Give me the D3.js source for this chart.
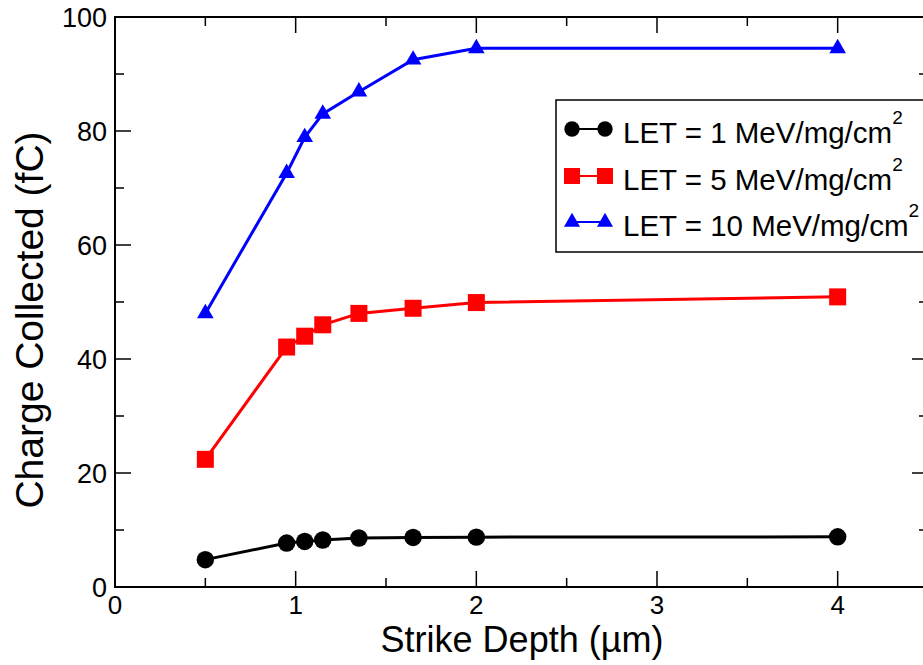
<!DOCTYPE html>
<html>
<head>
<meta charset="utf-8">
<script src="https://cdn.jsdelivr.net/npm/d3@7"></script>
<style>
    html, body { margin: 0; padding: 0; background: #fff; }
    svg { display: block; font-family: "Liberation Sans", Arial, Helvetica, sans-serif; }
</style>
</head>
<body>
<svg id="chart" width="923" height="665"></svg>
<script>
// Data
const depths = [0.5, 0.95, 1.05, 1.15, 1.35, 1.65, 2.0, 4.0];
const let1 = [4.8, 7.7, 8.0, 8.25, 8.6, 8.7, 8.75, 8.8];
const let5 = [22.4, 42.1, 44.0, 46.0, 48.0, 48.9, 49.9, 50.9];
const let10 = [48.0, 72.6, 78.9, 83.0, 86.9, 92.5, 94.5, 94.5];

const seriesNames = ['LET = 1 MeV/mg/cm', 'LET = 5 MeV/mg/cm', 'LET = 10 MeV/mg/cm'];
const xTicks = [0, 1, 2, 3, 4];
const yTicks = [0, 20, 40, 60, 80, 100];

// Global configs
const config = {
    width: 923,
    height: 665,
    left: 115,
    right: 928,
    top: 17,
    bottom: 587
};

const series = [
    { name: seriesNames[0], values: let1, color: '#000000', symbol: d3.symbolCircle, size: 240, legendSize: 185 },
    { name: seriesNames[1], values: let5, color: '#ff0000', symbol: d3.symbolSquare, size: 289, legendSize: 256 },
    { name: seriesNames[2], values: let10, color: '#0000ff', symbol: d3.symbolTriangle, size: 120, legendSize: 112 }
];

const x = d3.scaleLinear().domain([0, 4.5]).range([config.left, config.right]);
const y = d3.scaleLinear().domain([0, 100]).range([config.bottom, config.top]);

const svg = d3.select('#chart');

// Frame with inward ticks on all sides
function drawFrame() {
    const MAJOR = 16, MINOR = 9;

    const xMinor = d3.range(0.5, 4.5, 1);
    const yMinor = d3.range(10, 100, 20);

    const g = svg.append('g').attr('stroke', '#000').attr('stroke-width', 1.5);

    // ticks bottom / top
    xTicks.concat(xMinor).forEach(v => {
        const len = xTicks.includes(v) ? MAJOR : MINOR;
        g.append('line').attr('x1', x(v)).attr('x2', x(v)).attr('y1', config.bottom).attr('y2', config.bottom - len);
        g.append('line').attr('x1', x(v)).attr('x2', x(v)).attr('y1', config.top).attr('y2', config.top + len);
    });

    // ticks left / right
    yTicks.concat(yMinor).forEach(v => {
        const len = yTicks.includes(v) ? MAJOR : MINOR;
        g.append('line').attr('x1', config.left).attr('x2', config.left + len).attr('y1', y(v)).attr('y2', y(v));
        g.append('line').attr('x1', config.right).attr('x2', config.right - len).attr('y1', y(v)).attr('y2', y(v));
    });

    svg.append('rect')
        .attr('x', config.left).attr('y', config.top)
        .attr('width', config.right - config.left)
        .attr('height', config.bottom - config.top)
        .attr('fill', 'none').attr('stroke', '#000').attr('stroke-width', 2);

    // tick labels
    svg.append('g').selectAll('text').data(xTicks).join('text')
        .attr('x', d => x(d)).attr('y', 614)
        .attr('text-anchor', 'middle')
        .attr('font-size', 26)
        .text(d => d);

    svg.append('g').selectAll('text').data(yTicks).join('text')
        .attr('x', 107).attr('y', d => y(d) + 10)
        .attr('text-anchor', 'end')
        .attr('font-size', 27)
        .text(d => d);

    // axis titles
    svg.append('text')
        .attr('x', 522).attr('y', 652)
        .attr('text-anchor', 'middle')
        .attr('font-size', 36)
        .text('Strike Depth (\u00b5m)');

    svg.append('text')
        .attr('transform', 'translate(43,320) rotate(-90)')
        .attr('text-anchor', 'middle')
        .attr('font-size', 39)
        .text('Charge Collected (fC)');
}

function drawSeries() {
    const line = d3.line().x(d => x(d[0])).y(d => y(d[1]));

    series.forEach(s => {
        const pts = depths.map((d, i) => [d, s.values[i]]);

        svg.append('path')
            .datum(pts)
            .attr('d', line)
            .attr('fill', 'none')
            .attr('stroke', s.color)
            .attr('stroke-width', 3);

        svg.append('g').selectAll('path').data(pts).join('path')
            .attr('transform', d => `translate(${x(d[0])},${y(d[1])})`)
            .attr('d', d3.symbol(s.symbol, s.size))
            .attr('fill', s.color);
    });
}

function drawLegend() {
    const lg = svg.append('g');

    lg.append('rect')
        .attr('x', 556).attr('y', 100)
        .attr('width', 400).attr('height', 152)
        .attr('fill', '#fff').attr('stroke', '#000').attr('stroke-width', 1.5);

    const rowY = [129, 176, 222];

    series.forEach((s, i) => {
        const cy = rowY[i];
        lg.append('line')
            .attr('x1', 572).attr('x2', 605).attr('y1', cy).attr('y2', cy)
            .attr('stroke', s.color).attr('stroke-width', 2);
        [572, 605].forEach(cx => {
            lg.append('path')
                .attr('transform', `translate(${cx},${cy})`)
                .attr('d', d3.symbol(s.symbol, s.legendSize))
                .attr('fill', s.color);
        });
        const t = lg.append('text')
            .attr('x', 623).attr('y', cy + 14)
            .attr('font-size', 29.5)
            .text(s.name);
        t.append('tspan')
            .attr('dy', -19)
            .attr('font-size', 19)
            .text('2');
    });
}

drawFrame();
drawSeries();
drawLegend();
</script>
</body>
</html>
